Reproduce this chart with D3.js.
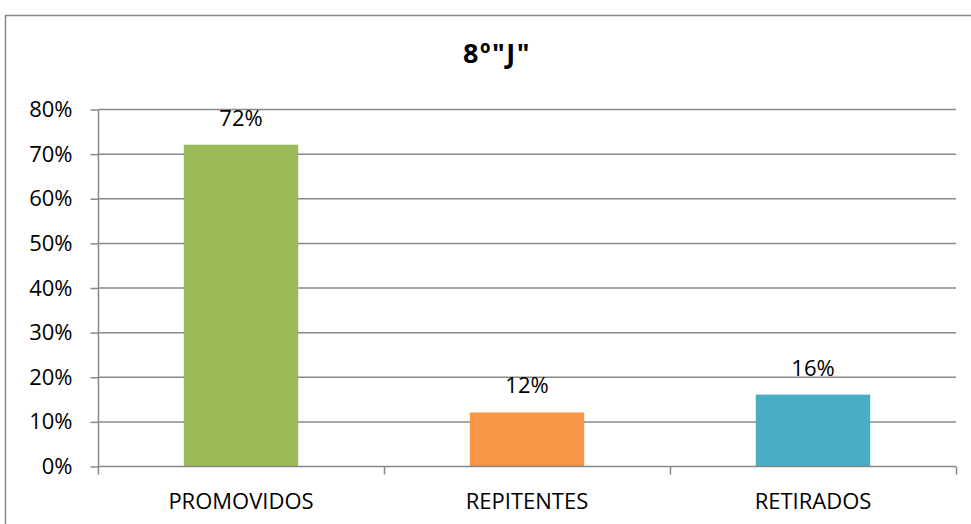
<!DOCTYPE html>
<html><head><meta charset="utf-8">
<script src="https://cdn.jsdelivr.net/npm/d3@7/dist/d3.min.js"></script>
<style>body{margin:0;background:#fff;}svg{display:block;}</style>
</head><body>
<script>
const categories = ["PROMOVIDOS", "REPITENTES", "RETIRADOS"];
const values = [72, 12, 16];
const colors = ["#9BBB59", "#F79646", "#4BACC6"];
const yTicks = [0, 10, 20, 30, 40, 50, 60, 70, 80];
const title = '8º"J"';

(function () {
const W = 971, H = 524;
const svg = d3.select("body").append("svg").attr("width", W).attr("height", H);
const font = "'Open Sans', sans-serif";
const fs = 22;

// outer border
svg.append("rect").attr("x", 5.5).attr("y", 15.5).attr("width", W + 10).attr("height", H + 10)
  .attr("fill", "none").attr("stroke", "#888").attr("stroke-width", 1.5);

const pLeft = 98, pRight = 956, pTop = 109, pBottom = 466;
const x = d3.scaleBand().domain(categories).range([pLeft, pRight]).paddingInner(0.6).paddingOuter(0.3);
const xb = d3.scaleBand().domain(categories).range([pLeft, pRight]);
const y = d3.scaleLinear().domain([0, 80]).range([pBottom, pTop]);

// gridlines
svg.append("g").selectAll("line").data(yTicks.filter(d => d > 0)).join("line")
  .attr("x1", pLeft).attr("x2", pRight).attr("y1", d => y(d) + 0.5).attr("y2", d => y(d) + 0.5)
  .attr("stroke", "#888").attr("stroke-width", 1.5);

// bars
svg.append("g").selectAll("rect").data(values).join("rect")
  .attr("x", (d, i) => x(categories[i])).attr("width", x.bandwidth())
  .attr("y", d => y(d)).attr("height", d => pBottom - y(d))
  .attr("fill", (d, i) => colors[i]);

// y axis
const yAxis = d3.axisLeft(y).tickValues(yTicks).tickFormat(d => d + "%").tickSize(8).tickPadding(18);
const gy = svg.append("g").attr("transform", `translate(${pLeft + 0.5},0.5)`).call(yAxis);
gy.select(".domain").attr("stroke", "#888").attr("stroke-width", 1.5).attr("d", `M0,${pTop}V${pBottom}`);
gy.selectAll(".tick line").attr("stroke", "#888").attr("stroke-width", 1.5);
gy.selectAll(".tick text").attr("font-family", font).attr("font-size", fs).attr("fill", "#000");

// x axis
const gx = svg.append("g").attr("transform", `translate(0,${pBottom + 0.5})`);
gx.append("line").attr("x1", pLeft).attr("x2", pRight).attr("stroke", "#888").attr("stroke-width", 1.5);
const bounds = categories.map(c => xb(c)).concat([pRight]);
gx.selectAll(".tk").data(bounds).join("line").attr("class", "tk")
  .attr("x1", d => d + 0.5).attr("x2", d => d + 0.5).attr("y1", 0).attr("y2", 8)
  .attr("stroke", "#888").attr("stroke-width", 1.5);
gx.selectAll("text").data(categories).join("text")
  .attr("x", d => xb(d) + xb.bandwidth() / 2).attr("y", 42)
  .attr("text-anchor", "middle").attr("font-family", font).attr("font-size", fs).attr("fill", "#000")
  .text(d => d);

// data labels
svg.append("g").selectAll("text").data(values).join("text")
  .attr("x", (d, i) => x(categories[i]) + x.bandwidth() / 2).attr("y", d => y(d) - 19)
  .attr("text-anchor", "middle").attr("font-family", font).attr("font-size", fs).attr("fill", "#000")
  .text(d => d + "%");

// title
svg.append("text").attr("x", 497).attr("y", 63).attr("text-anchor", "middle")
  .attr("font-family", font).attr("font-size", 27).attr("font-weight", "bold")
  .attr("letter-spacing", 1.5).text(title);
})();
</script>
</body></html>
